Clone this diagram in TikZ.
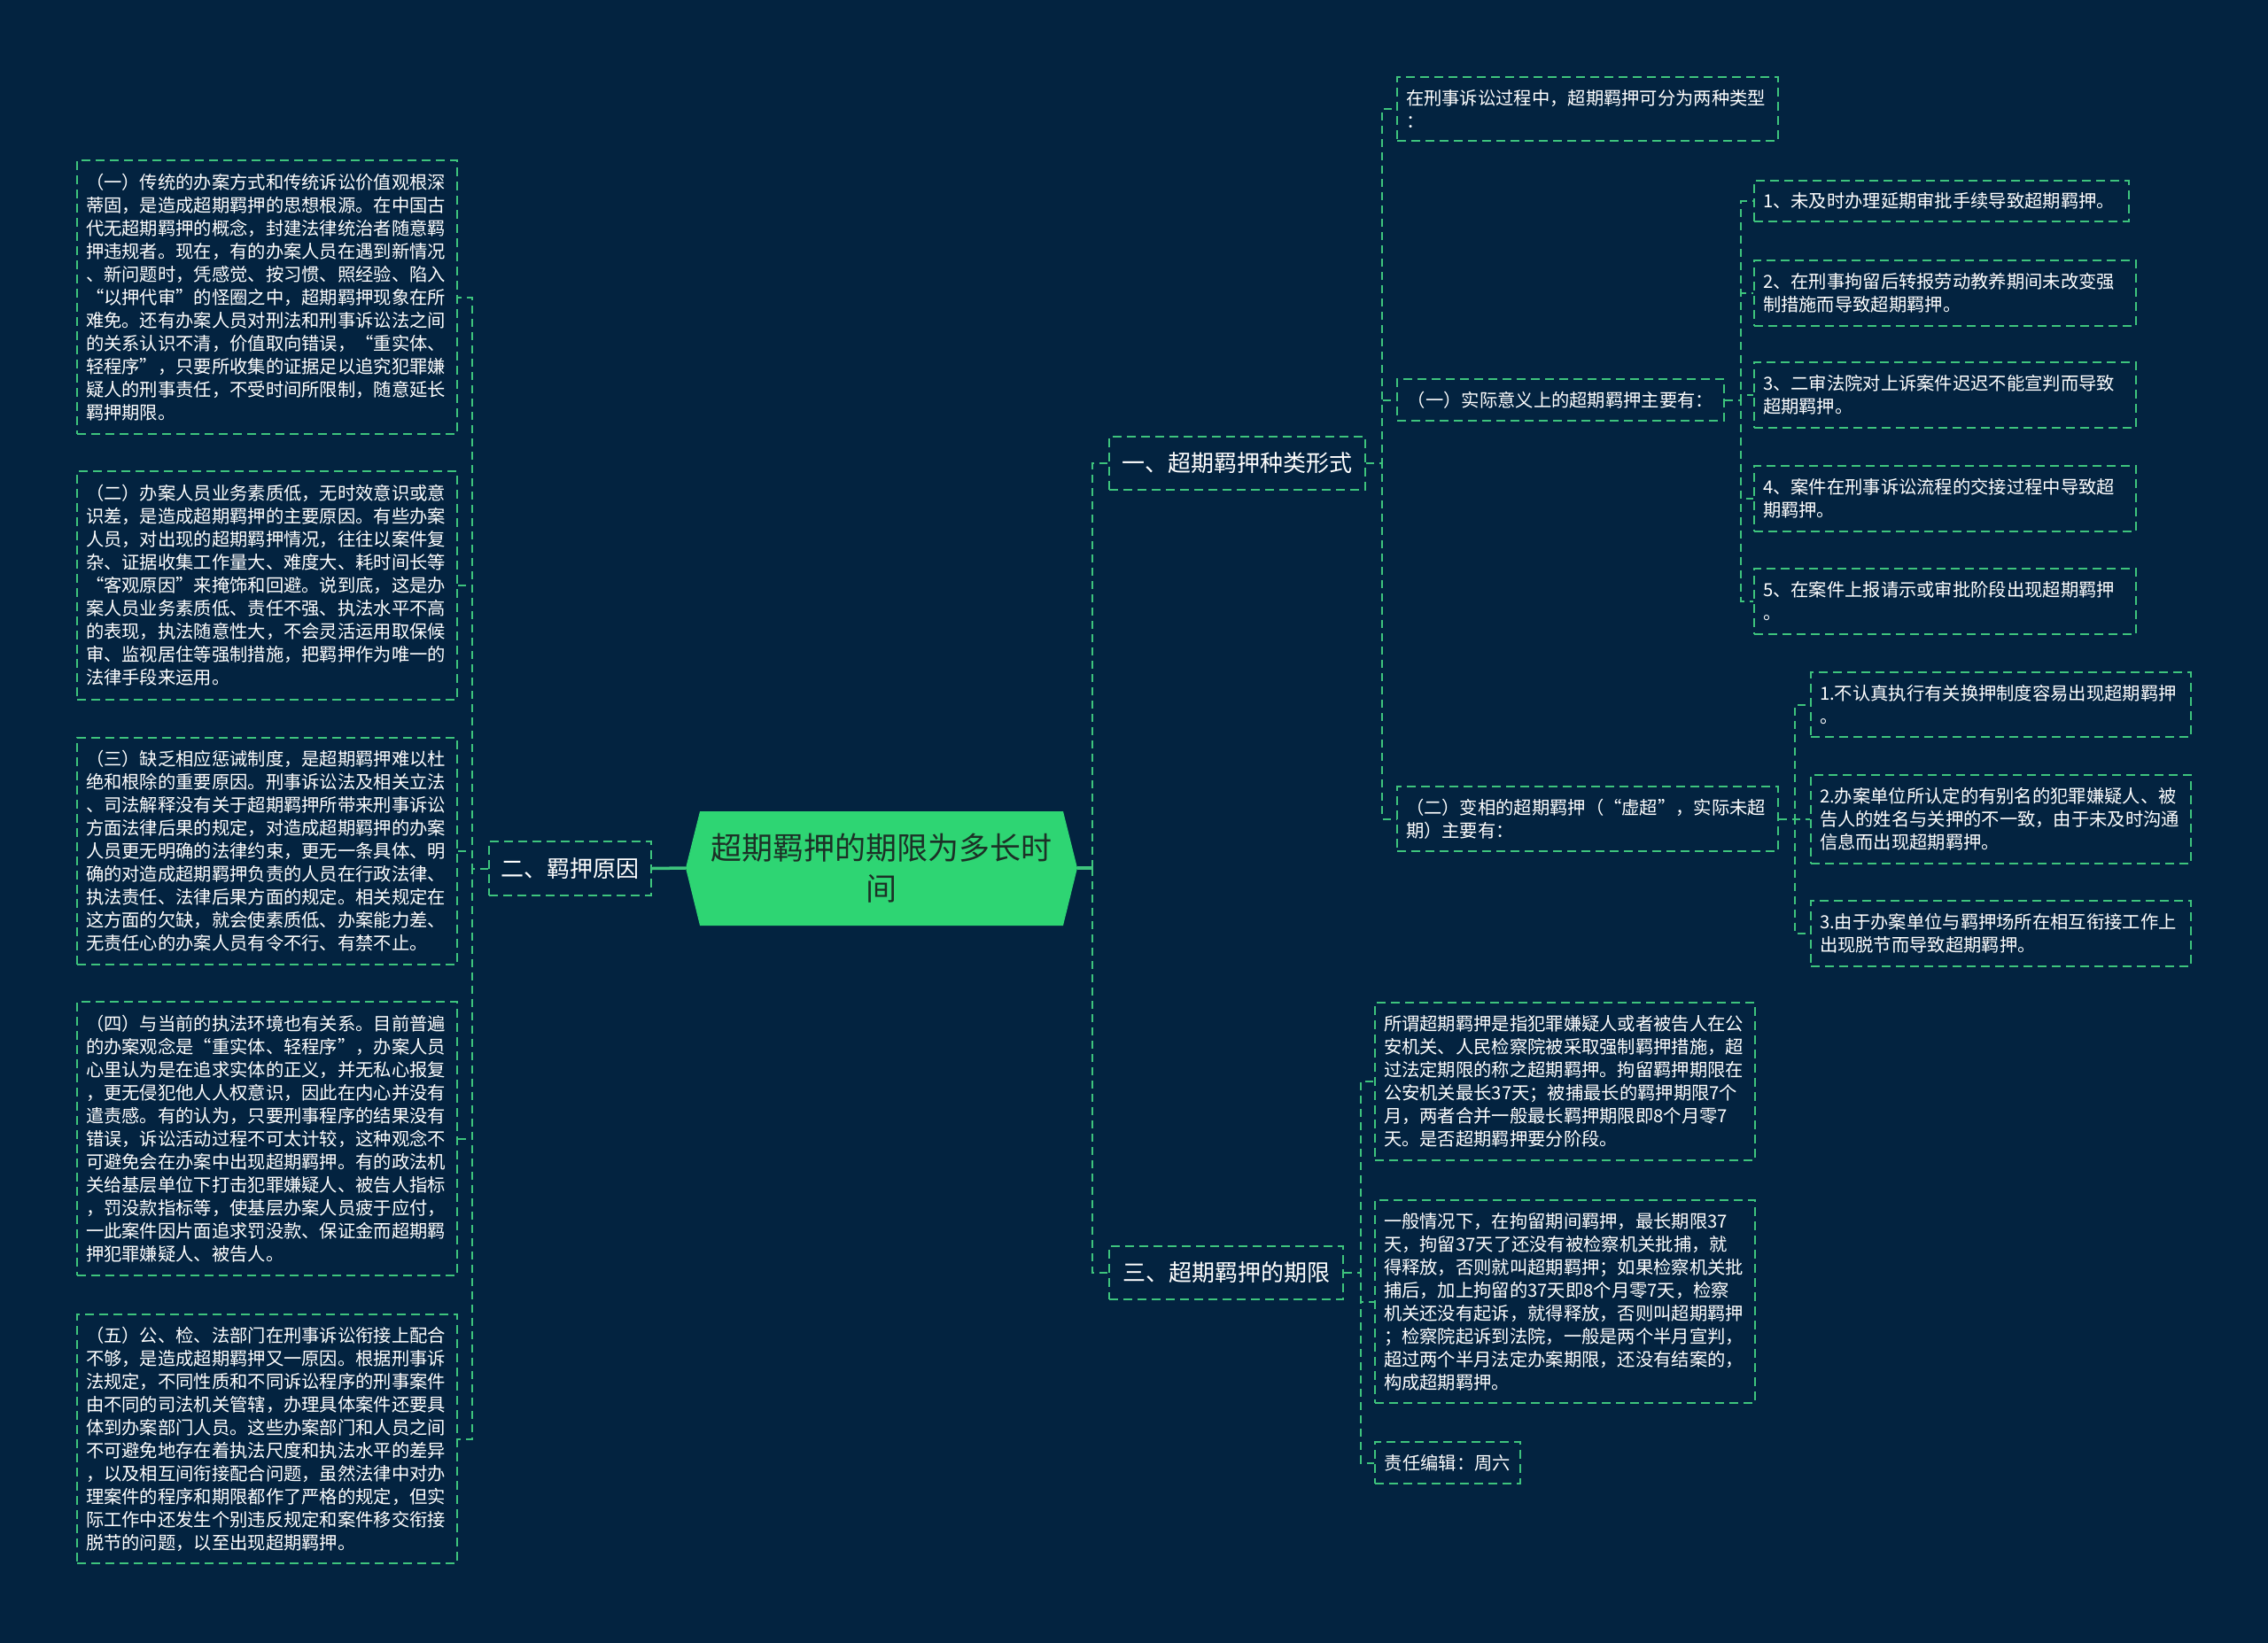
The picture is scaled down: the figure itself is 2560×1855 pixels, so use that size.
\documentclass[tikz,border=0pt]{standalone}
\usepackage{fontspec}
\newfontfamily\cjk{Noto Sans CJK SC}
\definecolor{bg}{RGB}{3,35,64}
\definecolor{lg}{RGB}{62,196,125}
\definecolor{cg}{RGB}{46,213,115}
\definecolor{ctext}{RGB}{28,48,38}
\tikzset{
  conn/.style={draw=lg, line width=2pt, dash pattern=on 9pt off 6pt},
  solidc/.style={draw=lg, line width=3.5pt},
  boxbase/.style={draw=lg, line width=2pt, dash pattern=on 10pt off 6pt, text=white, inner sep=0pt, align=left},
  leaf/.style={boxbase, font=\cjk\fontsize{20.3}{26}\selectfont},
  branch/.style={boxbase, font=\cjk\fontsize{26}{32}\selectfont},
}
\begin{document}
\begin{tikzpicture}[x=1pt,y=-1pt]
\useasboundingbox (0,0) rectangle (2560,1855);
\fill[bg] (0,0) rectangle (2560,1855);
% centre shape
\fill[cg] (774,980) -- (790,916) -- (1200,916) -- (1216,980) -- (1200,1045) -- (790,1045) -- cycle;
\node[font=\cjk\fontsize{35}{46}\selectfont, text=ctext, align=center, minimum width=442pt, minimum height=129pt, inner sep=0pt] (c) at (995,980) {超期羁押的期限为多长时\\间};

% left branch
\node[branch, minimum width=183pt, minimum height=61pt] (b2) at (643.5,980.5) {二、羁押原因};
\node[leaf, minimum width=429pt, minimum height=309pt, text width=409pt] (L1) at (301.5,335.5) {（一）传统的办案方式和传统诉讼价值观根深\\蒂固，是造成超期羁押的思想根源。在中国古\\代无超期羁押的概念，封建法律统治者随意羁\\押违规者。现在，有的办案人员在遇到新情况\\、新问题时，凭感觉、按习惯、照经验、陷入\\“以押代审”的怪圈之中，超期羁押现象在所\\难免。还有办案人员对刑法和刑事诉讼法之间\\的关系认识不清，价值取向错误，“重实体、\\轻程序”，只要所收集的证据足以追究犯罪嫌\\疑人的刑事责任，不受时间所限制，随意延长\\羁押期限。};
\node[leaf, minimum width=429pt, minimum height=258pt, text width=409pt] (L2) at (301.5,661) {（二）办案人员业务素质低，无时效意识或意\\识差，是造成超期羁押的主要原因。有些办案\\人员，对出现的超期羁押情况，往往以案件复\\杂、证据收集工作量大、难度大、耗时间长等\\“客观原因”来掩饰和回避。说到底，这是办\\案人员业务素质低、责任不强、执法水平不高\\的表现，执法随意性大，不会灵活运用取保候\\审、监视居住等强制措施，把羁押作为唯一的\\法律手段来运用。};
\node[leaf, minimum width=429pt, minimum height=256pt, text width=409pt] (L3) at (301.5,961) {（三）缺乏相应惩诫制度，是超期羁押难以杜\\绝和根除的重要原因。刑事诉讼法及相关立法\\、司法解释没有关于超期羁押所带来刑事诉讼\\方面法律后果的规定，对造成超期羁押的办案\\人员更无明确的法律约束，更无一条具体、明\\确的对造成超期羁押负责的人员在行政法律、\\执法责任、法律后果方面的规定。相关规定在\\这方面的欠缺，就会使素质低、办案能力差、\\无责任心的办案人员有令不行、有禁不止。};
\node[leaf, minimum width=429pt, minimum height=309pt, text width=409pt] (L4) at (301.5,1285.5) {（四）与当前的执法环境也有关系。目前普遍\\的办案观念是“重实体、轻程序”，办案人员\\心里认为是在追求实体的正义，并无私心报复\\，更无侵犯他人人权意识，因此在内心并没有\\遣责感。有的认为，只要刑事程序的结果没有\\错误，诉讼活动过程不可太计较，这种观念不\\可避免会在办案中出现超期羁押。有的政法机\\关给基层单位下打击犯罪嫌疑人、被告人指标\\，罚没款指标等，使基层办案人员疲于应付，\\一此案件因片面追求罚没款、保证金而超期羁\\押犯罪嫌疑人、被告人。};
\node[leaf, minimum width=429pt, minimum height=281pt, text width=409pt] (L5) at (301.5,1624.5) {（五）公、检、法部门在刑事诉讼衔接上配合\\不够，是造成超期羁押又一原因。根据刑事诉\\法规定，不同性质和不同诉讼程序的刑事案件\\由不同的司法机关管辖，办理具体案件还要具\\体到办案部门人员。这些办案部门和人员之间\\不可避免地存在着执法尺度和执法水平的差异\\，以及相互间衔接配合问题，虽然法律中对办\\理案件的程序和期限都作了严格的规定，但实\\际工作中还发生个别违反规定和案件移交衔接\\脱节的问题，以至出现超期羁押。};

% right branches
\node[branch, minimum width=289pt, minimum height=60pt] (b1) at (1396.5,523) {一、超期羁押种类形式};
\node[branch, minimum width=264pt, minimum height=60pt] (b3) at (1384,1437) {三、超期羁押的期限};

\node[leaf, minimum width=430pt, minimum height=72pt, text width=410pt] (r0) at (1792,123) {在刑事诉讼过程中，超期羁押可分为两种类型\\：};
\node[leaf, minimum width=369pt, minimum height=47pt] (r1) at (1761.5,451.5) {（一）实际意义上的超期羁押主要有：};
\node[leaf, minimum width=430pt, minimum height=73pt, text width=410pt] (r2) at (1792,924.5) {（二）变相的超期羁押（“虚超”，实际未超\\期）主要有：};

\node[leaf, minimum width=423pt, minimum height=46pt, text width=403pt] (i1) at (2191.5,227) {1、未及时办理延期审批手续导致超期羁押。};
\node[leaf, minimum width=431pt, minimum height=74pt, text width=411pt] (i2) at (2195.5,331) {2、在刑事拘留后转报劳动教养期间未改变强\\制措施而导致超期羁押。};
\node[leaf, minimum width=431pt, minimum height=74pt, text width=411pt] (i3) at (2195.5,446) {3、二审法院对上诉案件迟迟不能宣判而导致\\超期羁押。};
\node[leaf, minimum width=431pt, minimum height=74pt, text width=411pt] (i4) at (2195.5,563) {4、案件在刑事诉讼流程的交接过程中导致超\\期羁押。};
\node[leaf, minimum width=431pt, minimum height=74pt, text width=411pt] (i5) at (2195.5,679) {5、在案件上报请示或审批阶段出现超期羁押\\。};

\node[leaf, minimum width=429pt, minimum height=73pt, text width=409pt] (j1) at (2258.5,795.5) {1.不认真执行有关换押制度容易出现超期羁押\\。};
\node[leaf, minimum width=429pt, minimum height=100pt, text width=409pt] (j2) at (2258.5,925) {2.办案单位所认定的有别名的犯罪嫌疑人、被\\告人的姓名与关押的不一致，由于未及时沟通\\信息而出现超期羁押。};
\node[leaf, minimum width=429pt, minimum height=74pt, text width=409pt] (j3) at (2258.5,1054) {3.由于办案单位与羁押场所在相互衔接工作上\\出现脱节而导致超期羁押。};

\node[leaf, minimum width=429pt, minimum height=178pt, text width=409pt] (k1) at (1766.5,1221) {所谓超期羁押是指犯罪嫌疑人或者被告人在公\\安机关、人民检察院被采取强制羁押措施，超\\过法定期限的称之超期羁押。拘留羁押期限在\\公安机关最长37天；被捕最长的羁押期限7个\\月，两者合并一般最长羁押期限即8个月零7\\天。是否超期羁押要分阶段。};
\node[leaf, minimum width=429pt, minimum height=229pt, text width=409pt] (k2) at (1766.5,1469.5) {一般情况下，在拘留期间羁押，最长期限37\\天，拘留37天了还没有被检察机关批捕，就\\得释放，否则就叫超期羁押；如果检察机关批\\捕后，加上拘留的37天即8个月零7天，检察\\机关还没有起诉，就得释放，否则叫超期羁押\\；检察院起诉到法院，一般是两个半月宣判，\\超过两个半月法定办案期限，还没有结案的，\\构成超期羁押。};
\node[leaf, minimum width=164pt, minimum height=47pt] (k3) at (1634,1651.5) {责任编辑：周六};

% connectors
\draw[solidc] (c.west) -- (b2.east);
\foreach \n in {L1,L2,L3,L4,L5} \draw[conn] (b2.west) -- ++(-18,0) |- (\n.east);
\coordinate (cr) at (1233,980);
\draw[solidc] (c.east) -- (cr);
\draw[conn] (cr) |- (b1.west);
\draw[conn] (cr) |- (b3.west);
\foreach \n in {r0,r1,r2} \draw[conn] (b1.east) -- ++(18,0) |- (\n.west);
\foreach \n in {i1,i2,i3,i4,i5} \draw[conn] (r1.east) -- ++(18,0) |- (\n.west);
\foreach \n in {j1,j2,j3} \draw[conn] (r2.east) -- ++(18,0) |- (\n.west);
\foreach \n in {k1,k2,k3} \draw[conn] (b3.east) -- ++(19,0) |- (\n.west);
\end{tikzpicture}
\end{document}
